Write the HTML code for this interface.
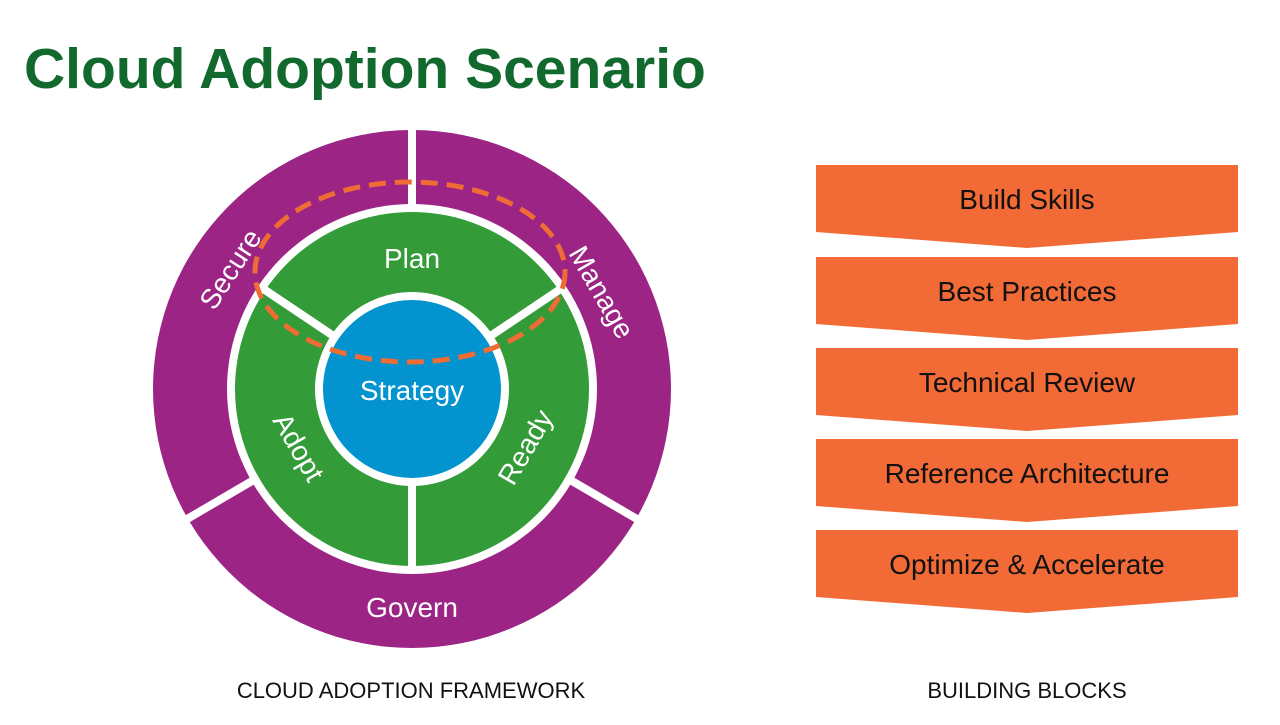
<!DOCTYPE html>
<html><head><meta charset="utf-8"><style>
body{margin:0;width:1280px;height:720px;background:#fff;overflow:hidden;font-family:"Liberation Sans",sans-serif}
</style></head><body>
<svg width="1280" height="720" xmlns="http://www.w3.org/2000/svg" font-family="Liberation Sans, sans-serif">
<text x="24" y="88" font-size="57" font-weight="bold" fill="#12692e">Cloud Adoption Scenario</text>
<g transform="translate(412,389)">
<circle r="259" fill="#9c2485"/>
<circle r="185" fill="#fff"/>
<circle r="177" fill="#339b37"/>
<circle r="97" fill="#fff"/>
<circle r="89" fill="#0393cf"/>
<g stroke="#fff" stroke-width="8">
<line x1="0" y1="-182" x2="0" y2="-262"/>
<line x1="-160" y1="92" x2="-230" y2="133"/>
<line x1="160" y1="92" x2="230" y2="133"/>
<line x1="0" y1="94" x2="0" y2="180"/>
<line x1="-80" y1="-54" x2="-150" y2="-101"/>
<line x1="80" y1="-54" x2="150" y2="-101"/>
</g>
<g fill="#fff" font-size="28" text-anchor="middle">
<text x="0" y="11">Strategy</text>
<text x="0" y="-121">Plan</text>
<text transform="translate(-113,58) rotate(60)" y="10">Adopt</text>
<text transform="translate(113,58) rotate(-60)" y="10">Ready</text>
<text transform="translate(-182,-120) rotate(-57)" y="10">Secure</text>
<text transform="translate(190,-97) rotate(60)" y="10">Manage</text>
<text x="0" y="228">Govern</text>
</g>
<ellipse cx="-2" cy="-117" rx="155" ry="90" fill="none" stroke="#ef6c35" stroke-width="5" stroke-dasharray="17,9"/>
</g>
<g fill="#f26a35">
<polygon points="816,165 1238,165 1238,232 1027,248 816,232"/>
<polygon points="816,257 1238,257 1238,324 1027,340 816,324"/>
<polygon points="816,348 1238,348 1238,415 1027,431 816,415"/>
<polygon points="816,439 1238,439 1238,506 1027,522 816,506"/>
<polygon points="816,530 1238,530 1238,597 1027,613 816,597"/>
</g>
<g font-size="28" text-anchor="middle" fill="#111">
<text x="1027" y="209">Build Skills</text>
<text x="1027" y="301">Best Practices</text>
<text x="1027" y="392">Technical Review</text>
<text x="1027" y="483">Reference Architecture</text>
<text x="1027" y="574">Optimize &amp; Accelerate</text>
</g>
<g font-size="22" text-anchor="middle" fill="#111">
<text x="411" y="698">CLOUD ADOPTION FRAMEWORK</text>
<text x="1027" y="698">BUILDING BLOCKS</text>
</g>
</svg>
</body></html>
